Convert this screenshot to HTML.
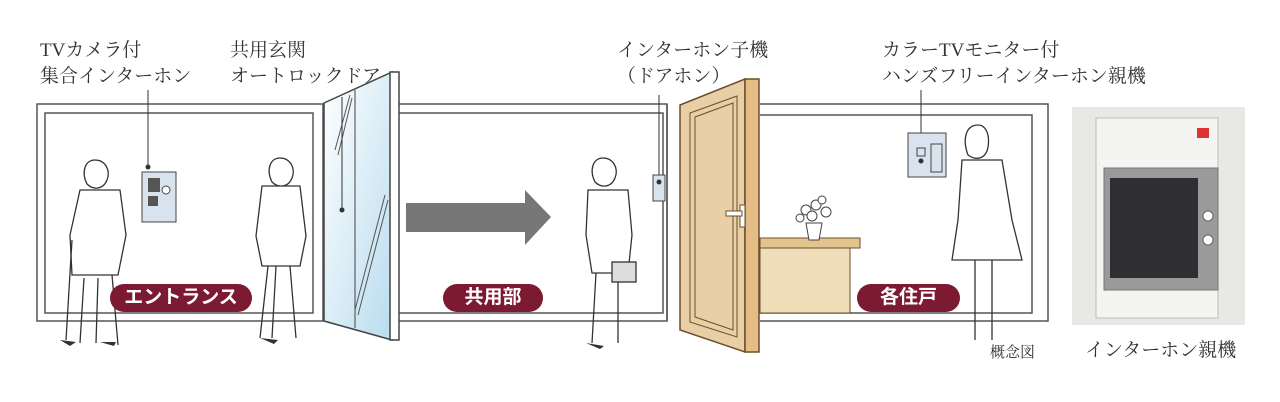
<!DOCTYPE html>
<html><head><meta charset="utf-8"><style>
body{margin:0;background:#fff;width:1280px;height:402px;overflow:hidden;position:relative;font-family:"Liberation Serif","Noto Serif CJK SC",serif}
.t{position:absolute;font-size:19px;line-height:26px;color:#333;white-space:nowrap}
.pill{position:absolute;background:#7c1a32;color:#fff;border-radius:15px;font:bold 19px "Liberation Sans","Noto Sans CJK JP",sans-serif;text-align:center;line-height:28px;height:28px}
</style></head><body>
<svg width="1280" height="402" style="position:absolute;left:0;top:0">
<defs><linearGradient id="g" x1="0" y1="0" x2="1" y2="1"><stop offset="0" stop-color="#fff"/><stop offset="1" stop-color="#b9dcef"/></linearGradient></defs>
<g fill="none" stroke="#555" stroke-width="1.5">
<rect x="37" y="104" width="286" height="217"/>
<rect x="45" y="113" width="268" height="200"/>
<path d="M399 104H667V321H399M399 113H663V313H399"/>
<line x1="667" y1="104" x2="667" y2="321"/>
<path d="M760 104H1048V321H760M760 115H1032V313H760"/>
</g>
<polygon points="324,103 392,72 392,340 324,321" fill="url(#g)" stroke="#444" stroke-width="1.5"/>
<rect x="390" y="72" width="9" height="268" fill="#fff" stroke="#444" stroke-width="1.5"/>
<line x1="355" y1="90" x2="355" y2="328" stroke="#444"/>
<path d="M335 150L350 95M338 155L352 98M355 310L385 195M358 315L388 200" stroke="#555" fill="none"/>
<line x1="342" y1="97" x2="342" y2="210" stroke="#333"/><circle cx="342" cy="210" r="2.5" fill="#333"/>
<line x1="148" y1="90" x2="148" y2="167" stroke="#333"/><circle cx="148" cy="167" r="2.5" fill="#333"/>
<rect x="142" y="172" width="34" height="50" fill="#d8e3ee" stroke="#444"/>
<rect x="148" y="178" width="12" height="14" fill="#555"/><rect x="148" y="196" width="10" height="10" fill="#555"/><circle cx="166" cy="190" r="4" fill="#fff" stroke="#444"/>
<polygon points="406,203 525,203 525,190 551,217 525,245 525,232 406,232" fill="#777"/>
<line x1="659" y1="95" x2="659" y2="175" stroke="#333"/>
<rect x="653" y="175" width="12" height="26" fill="#d8e3ee" stroke="#444"/><circle cx="659" cy="182" r="2.5" fill="#333"/>
<polygon points="680,105 745,79 745,352 680,330" fill="#e8cfa6" stroke="#6b4f2c" stroke-width="1.5"/>
<rect x="745" y="79" width="14" height="273" fill="#e3bd85" stroke="#6b4f2c" stroke-width="1.5"/>
<polygon points="690,113 737,96 737,337 690,322" fill="none" stroke="#6b4f2c"/>
<polygon points="695,117 733,103 733,330 695,317" fill="none" stroke="#6b4f2c"/>
<rect x="740" y="205" width="5" height="22" fill="#fff" stroke="#6b4f2c"/><rect x="726" y="211" width="16" height="5" fill="#fff" stroke="#6b4f2c"/>
<rect x="760" y="238" width="100" height="10" fill="#e3c48e" stroke="#6b4f2c"/>
<rect x="760" y="248" width="90" height="65" fill="#efdcb8" stroke="#6b4f2c"/>
<polygon points="806,223 822,223 819,240 809,240" fill="#fff" stroke="#444"/>
<g fill="#fff" stroke="#444"><circle cx="806" cy="210" r="5"/><circle cx="816" cy="205" r="5"/><circle cx="826" cy="212" r="5"/><circle cx="812" cy="216" r="5"/><circle cx="822" cy="200" r="4"/><circle cx="800" cy="218" r="4"/></g>
<line x1="921" y1="90" x2="921" y2="160" stroke="#333"/>
<rect x="908" y="133" width="38" height="44" fill="#d8e3ee" stroke="#444"/>
<rect x="917" y="148" width="8" height="8" fill="none" stroke="#444"/><rect x="931" y="144" width="11" height="28" fill="none" stroke="#444"/><circle cx="921" cy="161" r="2.5" fill="#333"/>
<g fill="#fff" stroke="#333" stroke-width="1.3">
<path d="M95 160c-10 0-14 12-8 24 6 6 16 6 20-4 4-10-2-20-12-20z"/>
<path d="M80 190l40 0 6 45-8 40-46 0-2-40z"/><path d="M72 240l-6 100M112 275l6 70M98 278l-2 65M84 278l-4 65"/>
<path d="M280 158c-10 0-14 12-8 24 6 6 16 6 20-4 4-10-2-20-12-20z"/>
<path d="M262 186l38 0 6 50-6 30-38 0-6-30z"/><path d="M268 266l-8 72M290 266l6 72M276 266l-4 72"/>
<path d="M603 158c-10 0-14 12-8 24 6 6 16 6 20-4 4-10-2-20-12-20z"/>
<path d="M588 190l40 0 4 45-4 38-36 0-6-38z"/><path d="M596 273l-4 70M618 273l0 70"/>
<rect x="612" y="262" width="24" height="20" fill="#ddd"/>
<path d="M978 125c-12 0-16 14-10 30 8 6 18 4 20-8 2-12-2-22-10-22z"/>
<path d="M962 160l40 0 10 60 10 40-70 0 6-40z"/><path d="M975 260l0 80M992 260l0 80"/>
</g>
<g fill="#333"><path d="M60 340l10 6 6-4zM100 342l14 4 2-4zM260 338l14 6 4-4zM586 343l14 6 4-3z"/></g>
<rect x="1072" y="107" width="173" height="218" fill="#e8e8e6"/>
<rect x="1096" y="118" width="122" height="200" fill="#f4f4f2" stroke="#bbb"/>
<rect x="1104" y="168" width="114" height="122" fill="#9a9a9a" stroke="#777"/>
<rect x="1110" y="178" width="88" height="100" fill="#2f2f33"/>
<rect x="1197" y="128" width="12" height="10" fill="#d33"/>
<circle cx="1208" cy="216" r="5" fill="#fff" stroke="#666"/><circle cx="1208" cy="240" r="5" fill="#fff" stroke="#666"/>
</svg>
<div class="t" style="left:40px;top:38px">TVカメラ付<br>集合インターホン</div>
<div class="t" style="left:230px;top:38px">共用玄関<br>オートロックドア</div>
<div class="t" style="left:617px;top:38px">インターホン子機<br>（ドアホン）</div>
<div class="t" style="left:882px;top:38px">カラーTVモニター付<br>ハンズフリーインターホン親機</div>
<div class="t" style="left:990px;top:340px;font-size:15px">概念図</div>
<div class="t" style="left:1085px;top:338px">インターホン親機</div>
<div class="pill" style="left:110px;top:284px;width:142px">エントランス</div>
<div class="pill" style="left:443px;top:284px;width:100px">共用部</div>
<div class="pill" style="left:857px;top:284px;width:103px">各住戸</div>
</body></html>
